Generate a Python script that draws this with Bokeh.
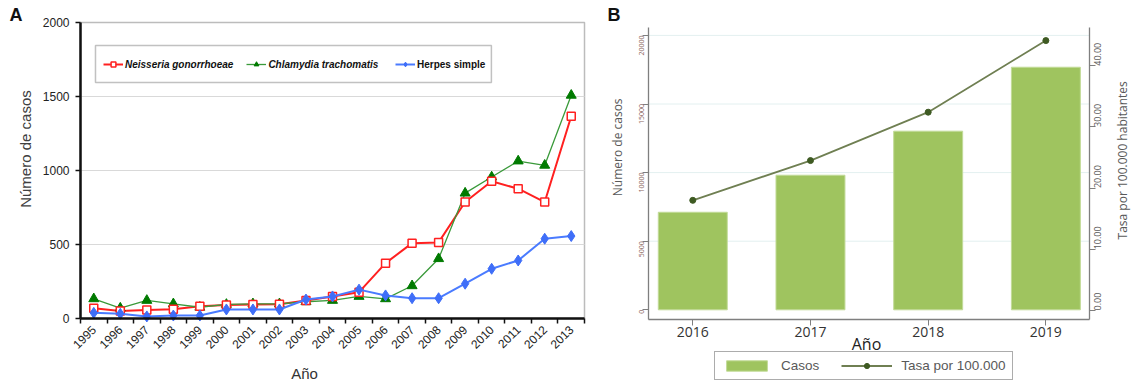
import math
from bokeh.plotting import figure
from bokeh.layouts import row
from bokeh.models import (Range1d, LinearAxis, FixedTicker, Legend, LegendItem,
                          BoxAnnotation, Label, NumeralTickFormatter)
from bokeh.embed import file_html
from bokeh.resources import INLINE

# ---------------- data: panel A ----------------
years_a = ["1995", "1996", "1997", "1998", "1999", "2000", "2001", "2002", "2003", "2004",
           "2005", "2006", "2007", "2008", "2009", "2010", "2011", "2012", "2013"]
neisseria = [70, 50, 57, 62, 83, 92, 95, 97, 122, 149, 178, 374, 509, 514, 787, 927, 877, 787, 1366]
chlamydia = [133, 70, 122, 99, 76, 95, 99, 99, 113, 122, 149, 133, 221, 404, 847, 956, 1064, 1035, 1508]
herpes = [38, 32, 14, 20, 20, 61, 61, 61, 128, 149, 195, 156, 137, 137, 235, 336, 392, 539, 557]
y_ticks_a = [0, 500, 1000, 1500, 2000]

# ---------------- data: panel B ----------------
years_b = ["2016", "2017", "2018", "2019"]
casos = [7110, 9810, 13020, 17680]
tasa = [18.0, 24.5, 32.4, 44.1]
y_ticks_b_left = [0, 5000, 10000, 15000, 20000]
y_ticks_b_right = [0, 10, 20, 30, 40]

FA = "Liberation Sans"
FB = "Open Sans"
H = 381

# ================= Panel A =================
# whole figure is the frame; axes are drawn at fixed locations
n_a = len(years_a)
pa = figure(width=600, height=H, x_range=Range1d(-3.016, 19.603), y_range=Range1d(-425.7, 2148.6),
            output_backend="svg", toolbar_location=None, min_border=0)
pa.title.visible = False
pa.outline_line_color = None
pa.xgrid.visible = False
pa.ygrid.visible = False

xs = [i + 0.5 for i in range(n_a)]

# horizontal gridlines
pa.segment(x0=0, x1=n_a, y0=y_ticks_a[1:-1], y1=y_ticks_a[1:-1],
           line_color="#d9d9d9", line_width=1)
# plot-area frame (top and right edges visible)
pa.add_layout(BoxAnnotation(left=0, right=n_a, bottom=0, top=y_ticks_a[-1], fill_alpha=0,
                            line_color="#222222", line_width=1.5, level="underlay"))

xa = pa.xaxis[0]
xa.fixed_location = 0
xa.bounds = (0, n_a)
xa.ticker = FixedTicker(ticks=xs, minor_ticks=list(range(n_a + 1)))
xa.major_label_overrides = {x: y for x, y in zip(xs, years_a)}
xa.major_label_orientation = math.pi / 4
xa.major_tick_out = 0
xa.major_tick_in = 0
xa.minor_tick_out = 5
xa.minor_tick_in = 0
xa.minor_tick_line_color = "#111111"
xa.minor_tick_line_width = 1.5
xa.axis_line_color = "#111111"
xa.axis_line_width = 2.5
xa.major_label_text_font = FA
xa.major_label_text_font_size = "12px"
xa.major_label_text_color = "#222222"
xa.major_label_standoff = 4

ya = pa.yaxis[0]
ya.fixed_location = 0
ya.bounds = (0, y_ticks_a[-1])
ya.ticker = FixedTicker(ticks=y_ticks_a)
ya.minor_tick_out = 0
ya.major_tick_out = 5
ya.major_tick_in = 0
ya.major_tick_line_color = "#111111"
ya.major_tick_line_width = 1.5
ya.axis_line_color = "#111111"
ya.axis_line_width = 2.5
ya.major_label_text_font = FA
ya.major_label_text_font_size = "12px"
ya.major_label_text_color = "#222222"
ya.major_label_standoff = 6

r_red_l = pa.line(xs, neisseria, line_color="#ff2020", line_width=2)
r_grn_l = pa.line(xs, chlamydia, line_color="#3a9a3a", line_width=1.3)
r_grn_m = pa.scatter(xs, chlamydia, marker="triangle", size=10, fill_color="#007a00",
                     line_color="#007a00")
r_red_m = pa.scatter(xs, neisseria, marker="square", size=8, fill_color="white",
                     line_color="#ff2020", line_width=1.5)
r_blu_l = pa.line(xs, herpes, line_color="#4a7bff", line_width=2)
r_blu_m = pa.scatter(xs, herpes, marker="diamond", size=11, fill_color="#3f6ef8",
                     line_color="#3f6ef8")

# legend frame
pa.add_layout(BoxAnnotation(left=0.565, right=15.49, top=1844.6, bottom=1594.6,
                            fill_color="white", fill_alpha=1.0,
                            line_color="#333333", line_width=1.5, level="overlay"))
leg1 = Legend(items=[LegendItem(label="Neisseria gonorrhoeae", renderers=[r_red_l, r_red_m]),
                     LegendItem(label="Chlamydia trachomatis", renderers=[r_grn_l, r_grn_m])],
              location=(103, 311), orientation="horizontal", padding=0, margin=0,
              border_line_color=None, background_fill_alpha=0,
              label_text_font=FA, label_text_font_size="10px", label_text_font_style="bold italic",
              label_text_color="#111111", glyph_width=20, glyph_height=12, label_standoff=2,
              spacing=13)
leg2 = Legend(items=[LegendItem(label="Herpes simple", renderers=[r_blu_l, r_blu_m])],
              location=(395, 311), orientation="horizontal", padding=0, margin=0,
              border_line_color=None, background_fill_alpha=0,
              label_text_font=FA, label_text_font_size="10px", label_text_font_style="bold",
              label_text_color="#111111", glyph_width=20, glyph_height=12, label_standoff=2)
pa.add_layout(leg1)
pa.add_layout(leg2)

pa.add_layout(Label(x=-2.677, y=2114.9, text="A", text_font=FA, text_font_size="18px",
                    text_font_style="bold", text_baseline="top", text_align="left",
                    text_color="#111111"))
pa.add_layout(Label(x=-2.073, y=1145, text="Número de casos", angle=math.pi / 2,
                    text_font=FA, text_font_size="15px", text_align="center",
                    text_baseline="middle", text_color="#404040"))
pa.add_layout(Label(x=8.445, y=-314, text="Año", text_font=FA, text_font_size="15px",
                    text_align="center", text_baseline="top", text_color="#333333"))

# ================= Panel B =================
xb = list(range(len(years_b)))
x_lo, x_hi = -0.376, 3.370
y_axis_b = -692
pb = figure(width=534, height=H, x_range=Range1d(-0.784, 3.753), y_range=Range1d(-5226, 22544),
            output_backend="svg", toolbar_location=None, min_border=0)
pb.title.visible = False
pb.extra_y_ranges = {"tasa": Range1d(-11.60, 50.65)}
pb.outline_line_color = None
pb.xgrid.visible = False
pb.ygrid.visible = False

pb.segment(x0=x_lo, x1=x_hi, y0=y_ticks_b_left[1:], y1=y_ticks_b_left[1:],
           line_color="#e3f0f0", line_width=1)

bx = pb.xaxis[0]
bx.fixed_location = y_axis_b
bx.bounds = (x_lo, x_hi)
bx.ticker = FixedTicker(ticks=xb)
bx.major_label_overrides = {i: y for i, y in zip(xb, years_b)}
bx.major_tick_out = 6
bx.major_tick_in = 0
bx.minor_tick_out = 0
bx.major_tick_line_color = "#7f7f7f"
bx.axis_line_color = "#7f7f7f"
bx.axis_line_width = 1.3
bx.major_label_text_font = FB
bx.major_label_text_font_size = "14px"
bx.major_label_text_color = "#333333"
bx.major_label_standoff = 2

by = pb.yaxis[0]
by.fixed_location = x_lo
by.bounds = (y_axis_b, 20590)
by.ticker = FixedTicker(ticks=y_ticks_b_left)
by.major_label_orientation = math.pi / 2
by.major_tick_out = 6
by.major_tick_in = 0
by.minor_tick_out = 0
by.major_tick_line_color = "#7f7f7f"
by.axis_line_color = "#7f7f7f"
by.axis_line_width = 1.3
by.major_label_text_font = FB
by.major_label_text_font_size = "7px"
by.major_label_text_color = "#8b6660"
by.major_label_standoff = 1

ry = LinearAxis(y_range_name="tasa", ticker=FixedTicker(ticks=y_ticks_b_right),
                formatter=NumeralTickFormatter(format="0.00"))
ry.fixed_location = x_hi
ry.bounds = (-1.47, 46.24)
ry.major_label_orientation = math.pi / 2
ry.major_tick_out = 6
ry.major_tick_in = 0
ry.minor_tick_out = 0
ry.major_tick_line_color = "#7f7f7f"
ry.axis_line_color = "#7f7f7f"
ry.axis_line_width = 1.3
ry.major_label_text_font = FB
ry.major_label_text_font_size = "9px"
ry.major_label_text_color = "#595959"
ry.major_label_standoff = 2
pb.add_layout(ry, "right")

bars = pb.vbar(x=xb, top=casos, bottom=0, width=0.586, fill_color="#9fc45f",
               line_color="#c2db98", line_width=1)
rl = pb.line(xb, tasa, y_range_name="tasa", line_color="#6f7f52", line_width=1.8)
rp = pb.scatter(xb, tasa, y_range_name="tasa", marker="circle", size=6,
                fill_color="#3e5a22", line_color="#3e5a22")

legb = Legend(items=[LegendItem(label="Casos", renderers=[bars]),
                     LegendItem(label="Tasa por 100.000", renderers=[rl, rp])],
              location=(114, 1), orientation="horizontal", padding=6, margin=0,
              border_line_color="#595959", border_line_width=1,
              background_fill_color="white", background_fill_alpha=1,
              label_text_font=FA, label_text_font_size="13.5px", label_text_color="#595959",
              glyph_width=51, glyph_height=13, label_standoff=9, spacing=22)
pb.add_layout(legb)

pb.add_layout(Label(x=-0.725, y=22194, text="B", text_font=FA, text_font_size="18px",
                    text_font_style="bold", text_baseline="top", text_align="left",
                    text_color="#111111"))
pb.add_layout(Label(x=-0.640, y=11844, text="Número de casos", angle=math.pi / 2,
                    text_font=FB, text_font_size="12px", text_align="center",
                    text_baseline="middle", text_color="#595959"))
pb.add_layout(Label(x=3.651, y=10896, text="Tasa por 100.000 habitantes", angle=math.pi / 2,
                    text_font=FB, text_font_size="12px", text_align="center",
                    text_baseline="middle", text_color="#595959"))
pb.add_layout(Label(x=1.476, y=-1713, text="Año", text_font=FB, text_font_size="16px",
                    text_align="center", text_baseline="top", text_color="#222222"))

layout = row(pa, pb, spacing=0)
open("out.html", "w").write(file_html(layout, INLINE))
